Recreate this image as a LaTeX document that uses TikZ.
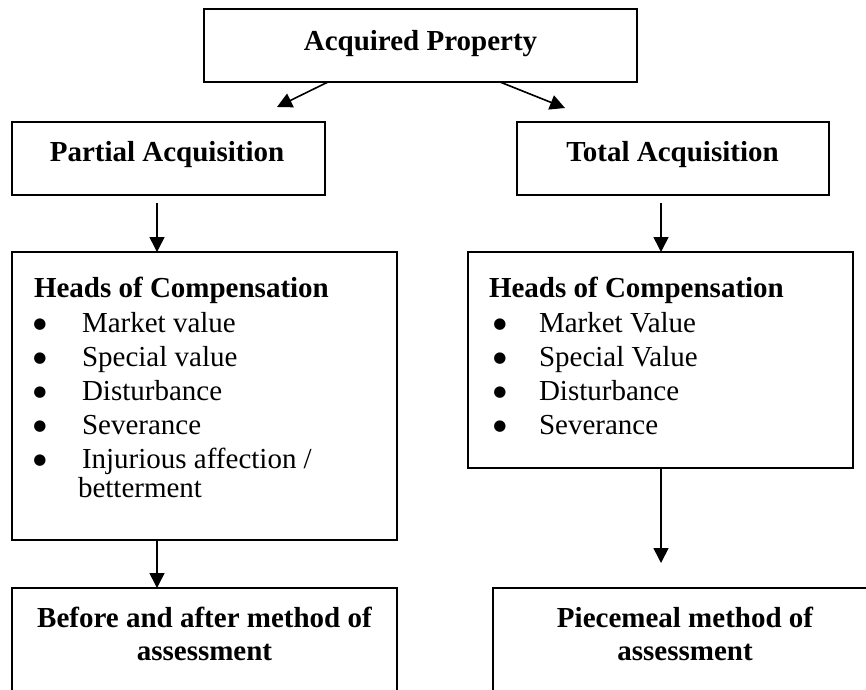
\documentclass[tikz,border=0pt]{standalone}
\usepackage{fontspec}
\setmainfont{Liberation Serif}
\newfontfamily\bulfont{DejaVu Sans}
\usetikzlibrary{arrows.meta}
\begin{document}
\begin{tikzpicture}[x=1pt,y=-1pt,
  box/.style={draw=black, line width=2pt, inner sep=0pt, outer sep=0pt},
  arr/.style={line width=1.6pt, -{Triangle[width=15pt,length=15pt]}},
  txt/.style={font=\fontsize{29pt}{34pt}\selectfont, inner sep=0pt, outer sep=0pt},
  btxt/.style={font=\fontsize{29pt}{34pt}\selectfont\bfseries, inner sep=0pt, outer sep=0pt},
  item/.style={txt, anchor=base west},
  bul/.style={font=\bulfont\fontsize{15pt}{15pt}\selectfont, inner sep=0pt, outer sep=0pt, anchor=base, yshift=3.3pt}
]
\clip (0,0) rectangle (866,689);
\fill[white] (0,0) rectangle (866,689);

% boxes
\node[box, minimum width=433pt, minimum height=73pt] (top) at (420.5,45.5) {};
\node[box, minimum width=313pt, minimum height=73pt] (partial) at (168.5,158.5) {};
\node[box, minimum width=312pt, minimum height=73pt] (total) at (673,158.5) {};
\node[box, minimum width=385pt, minimum height=288pt] (headsL) at (204.5,396) {};
\node[box, minimum width=385pt, minimum height=216pt] (headsR) at (660.5,360) {};
\node[box, minimum width=385pt, minimum height=132pt] (bottomL) at (204.5,654) {};
\node[box, minimum width=384pt, minimum height=132pt] (bottomR) at (685,654) {};

% titles
\node[btxt, anchor=base] (ttop) at (420.5,50) {Acquired Property};
\node[btxt, anchor=base] (tpartial) at (167,161) {Partial Acquisition};
\node[btxt, anchor=base] (ttotal) at (672.5,161) {Total Acquisition};

% left heads
\node[btxt, anchor=base west] (hl) at (34,297) {Heads of Compensation};
\node[bul] (bl1) at (40,332) {●};
\node[item] (il1) at (82,332) {Market value};
\node[bul] (bl2) at (40,366) {●};
\node[item] (il2) at (82,366) {Special value};
\node[bul] (bl3) at (40,400) {●};
\node[item] (il3) at (82,400) {Disturbance};
\node[bul] (bl4) at (40,434) {●};
\node[item] (il4) at (82,434) {Severance};
\node[bul] (bl5) at (40,468) {●};
\node[item] (il5) at (82,468) {Injurious affection /};
\node[item] (il6) at (78,497) {betterment};

% right heads
\node[btxt, anchor=base west] (hr) at (489,297) {Heads of Compensation};
\node[bul] (br1) at (500,332) {●};
\node[item] (ir1) at (539,332) {Market Value};
\node[bul] (br2) at (500,366) {●};
\node[item] (ir2) at (539,366) {Special Value};
\node[bul] (br3) at (500,400) {●};
\node[item] (ir3) at (539,400) {Disturbance};
\node[bul] (br4) at (500,434) {●};
\node[item] (ir4) at (539,434) {Severance};

% bottom texts
\node[btxt, anchor=base] (tbl1) at (204.5,627) {Before and after method of};
\node[btxt, anchor=base] (tbl2) at (204.5,660) {assessment};
\node[btxt, anchor=base] (tbr1) at (685,627) {Piecemeal method of};
\node[btxt, anchor=base] (tbr2) at (685,660) {assessment};

% free arrow ends
\coordinate (tipL) at (277,107);
\coordinate (tipR) at (565,108);
\coordinate (tipD) at (661,563);

% connectors
\draw[arr] ([xshift=-92.5pt]top.south) -- (tipL);
\draw[arr] ([xshift=79.5pt]top.south) -- (tipR);
\draw[arr] ([shift={(-11.5pt,-8pt)}]partial.south) -- ([xshift=-47.5pt]headsL.north);
\draw[arr] ([shift={(-12pt,-8pt)}]total.south) -- ([xshift=0.5pt]headsR.north);
\draw[arr] ([xshift=-47.5pt]headsL.south) -- ([xshift=-47.5pt]bottomL.north);
\draw[arr] ([xshift=0.5pt]headsR.south) -- (tipD);
\end{tikzpicture}
\end{document}
